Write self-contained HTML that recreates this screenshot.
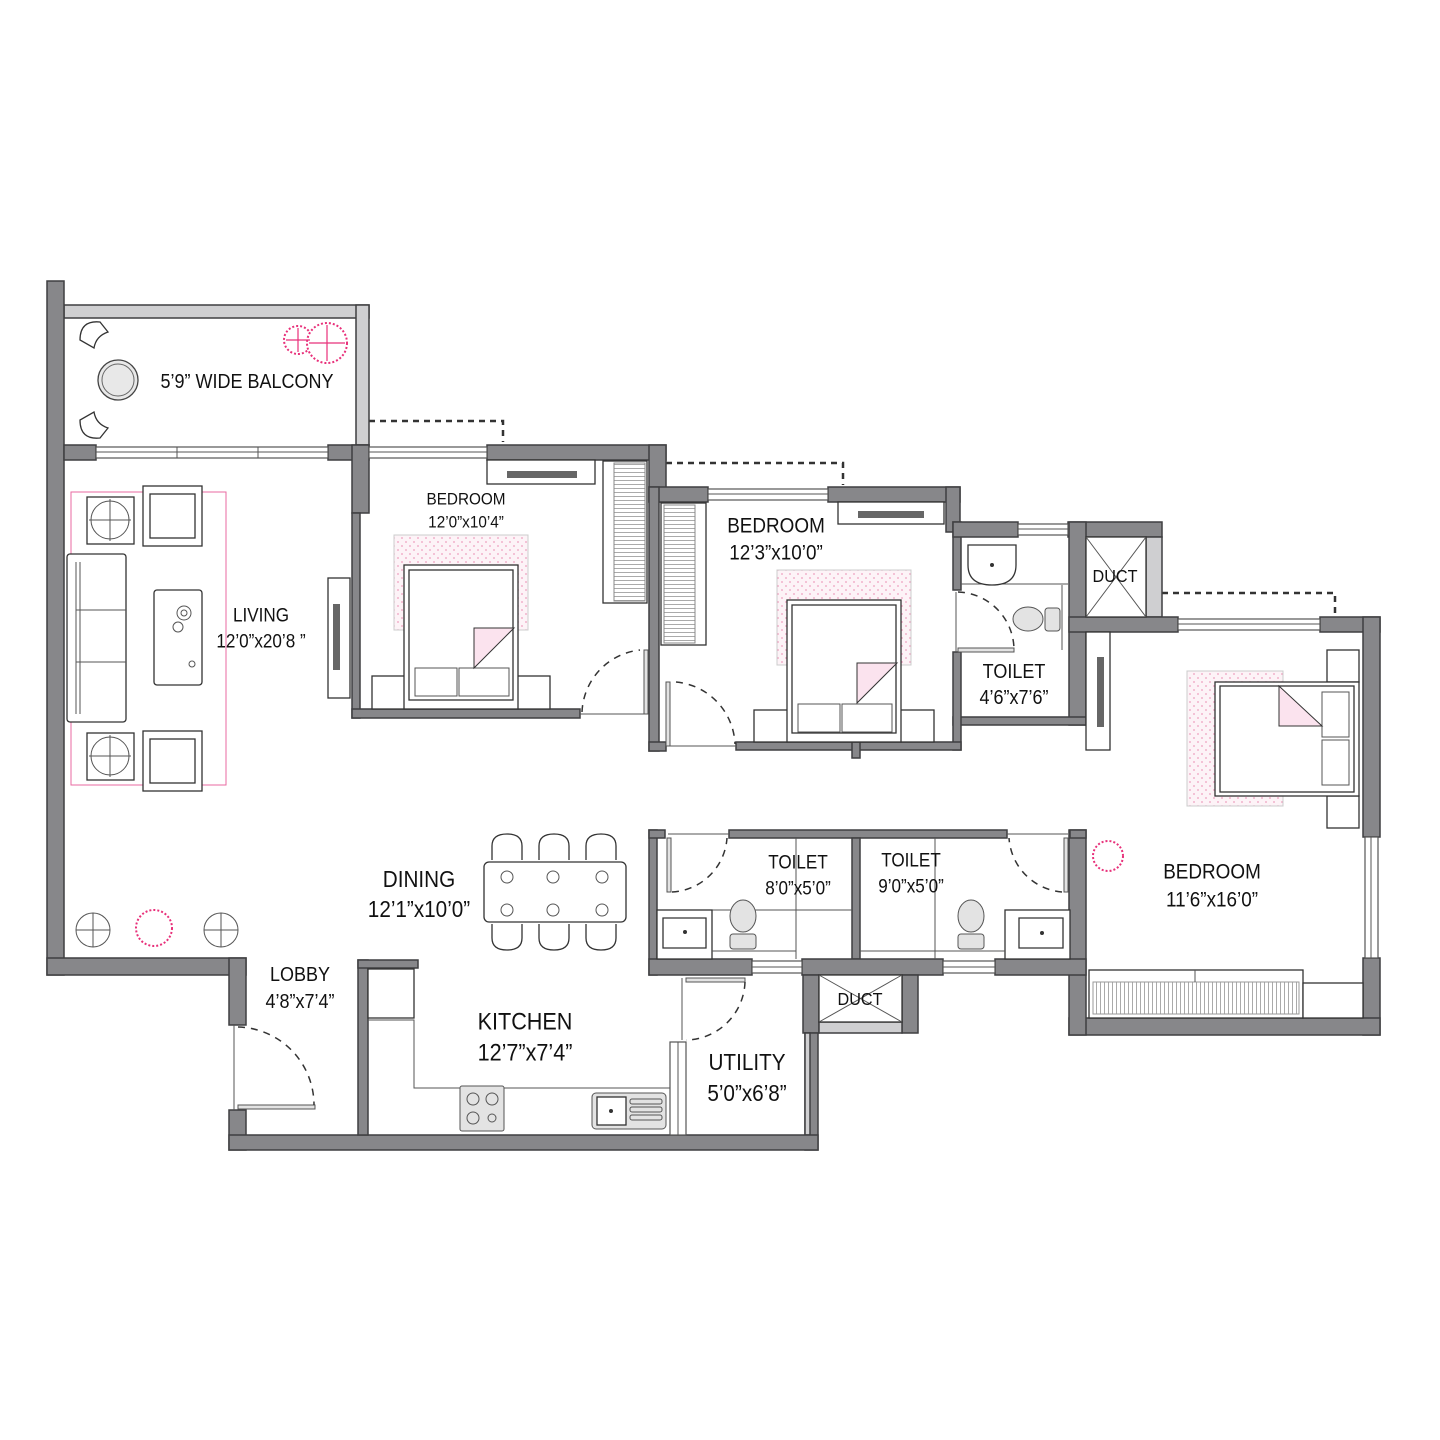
<!DOCTYPE html>
<html><head><meta charset="utf-8">
<style>
html,body{margin:0;padding:0;background:#fff;}
svg{display:block}
.w{fill:#87878a;stroke:#3f3f41;stroke-width:1.5}
.lw{fill:#cfcfd1;stroke:#3f3f41;stroke-width:1.5}
.win{fill:#fff;stroke:#555;stroke-width:1.2}
.f{fill:#fff;stroke:#333;stroke-width:1.3}
.fl{fill:none;stroke:#555;stroke-width:1}
.g{fill:#e3e3e3;stroke:#555;stroke-width:1}
.d{fill:none;stroke:#333;stroke-width:1.5;stroke-dasharray:7 6}
.dl{fill:none;stroke:#333;stroke-width:2.5;stroke-dasharray:6 5}
.pk{fill:#fbe3ee;stroke:#e0a0b8;stroke-width:1}
text{font-family:"Liberation Sans Narrow","Liberation Sans",sans-serif;fill:#111;text-anchor:middle;dominant-baseline:central}
</style></head>
<body>
<svg width="1440" height="1440" viewBox="0 0 1440 1440" xmlns="http://www.w3.org/2000/svg">
<defs>
<pattern id="dots" width="8" height="8" patternUnits="userSpaceOnUse"><rect width="8" height="8" fill="#fdf3f7"/><circle cx="2" cy="2" r="0.9" fill="#ef9fbf"/><circle cx="6" cy="6" r="0.9" fill="#ef9fbf"/></pattern>
<pattern id="vl" width="4" height="4" patternUnits="userSpaceOnUse"><rect width="4" height="4" fill="#fff"/><rect width="1" height="4" fill="#aaa"/></pattern>
<pattern id="hl" width="4" height="4" patternUnits="userSpaceOnUse"><rect width="4" height="4" fill="#fff"/><rect width="4" height="1" fill="#aaa"/></pattern>
</defs>

<polyline class="dl" points="369,421 503,421 503,442"/>
<polyline class="dl" points="666,463 843,463 843,485"/>
<polyline class="dl" points="1162,593 1335,593 1335,615"/>

<rect class="lw" x="64" y="305" width="305" height="13"/>
<rect class="lw" x="356" y="305" width="13" height="140"/>

<rect class="w" x="47" y="281" width="17" height="694"/>
<rect class="w" x="64" y="445" width="32" height="15"/>
<rect class="w" x="328" y="445" width="41" height="15"/>
<rect class="w" x="352" y="445" width="17" height="68"/>
<rect class="w" x="352" y="513" width="8" height="205"/>
<rect class="w" x="352" y="709" width="228" height="9"/>
<rect class="w" x="487" y="445" width="179" height="15"/>
<rect class="w" x="649" y="445" width="17" height="57"/>
<rect class="w" x="649" y="487" width="59" height="15"/>
<rect class="w" x="649" y="487" width="10" height="264"/>
<rect class="w" x="649" y="742" width="17" height="9"/>
<rect class="w" x="828" y="487" width="132" height="15"/>
<rect class="w" x="946" y="487" width="14" height="45"/>
<rect class="w" x="953" y="522" width="8" height="68"/>
<rect class="w" x="953" y="522" width="65" height="15"/>
<rect class="w" x="1068" y="522" width="94" height="15"/>
<rect class="w" x="1069" y="522" width="17" height="203"/>
<rect class="lw" x="1146" y="537" width="16" height="80"/>
<rect class="w" x="1069" y="617" width="109" height="15"/>
<rect class="w" x="1320" y="617" width="60" height="15"/>
<rect class="w" x="1363" y="617" width="17" height="220"/>
<rect class="w" x="1363" y="958" width="17" height="77"/>
<rect class="w" x="1069" y="1018" width="311" height="17"/>
<rect class="w" x="1069" y="830" width="17" height="205"/>
<rect class="w" x="953" y="717" width="133" height="8"/>
<rect class="w" x="953" y="652" width="8" height="98"/>
<rect class="w" x="736" y="742" width="225" height="8"/>
<rect class="w" x="852" y="742" width="8" height="16"/>

<rect class="w" x="649" y="830" width="8" height="145"/>
<rect class="w" x="649" y="830" width="16" height="8"/>
<rect class="w" x="729" y="830" width="278" height="8"/>
<rect class="w" x="1070" y="830" width="16" height="8"/>
<rect class="w" x="852" y="838" width="8" height="121"/>
<rect class="w" x="649" y="959" width="103" height="16"/>
<rect class="w" x="802" y="959" width="141" height="16"/>
<rect class="w" x="995" y="959" width="91" height="16"/>
<rect class="w" x="803" y="975" width="16" height="58"/>
<rect class="w" x="902" y="975" width="16" height="58"/>
<rect class="lw" x="819" y="1022" width="83" height="11"/>
<rect class="w" x="805" y="1033" width="13" height="117"/>
<rect class="lw" x="805" y="1033" width="5" height="102"/>

<rect class="w" x="47" y="958" width="199" height="17"/>
<rect class="w" x="229" y="958" width="17" height="67"/>
<rect class="w" x="229" y="1110" width="17" height="40"/>
<rect class="w" x="229" y="1135" width="589" height="15"/>
<rect class="w" x="358" y="960" width="10" height="175"/>
<rect class="w" x="358" y="960" width="60" height="8"/>

<g>
<rect class="win" x="96" y="447" width="232" height="11"/>
<line class="fl" x1="96" y1="452" x2="328" y2="452"/>
<line class="fl" x1="177" y1="447" x2="177" y2="458"/><line class="fl" x1="258" y1="447" x2="258" y2="458"/>
<rect class="win" x="369" y="447" width="118" height="11"/><line class="fl" x1="369" y1="452" x2="487" y2="452"/>
<rect class="win" x="708" y="489" width="120" height="11"/><line class="fl" x1="708" y1="494" x2="828" y2="494"/>
<rect class="win" x="1018" y="524" width="50" height="11"/><line class="fl" x1="1018" y1="529" x2="1068" y2="529"/>
<rect class="win" x="1178" y="619" width="142" height="11"/><line class="fl" x1="1178" y1="624" x2="1320" y2="624"/>
<rect class="win" x="1365" y="837" width="13" height="121"/><line class="fl" x1="1371" y1="837" x2="1371" y2="958"/>
<rect class="win" x="752" y="961" width="50" height="12"/><line class="fl" x1="752" y1="967" x2="802" y2="967"/>
<rect class="win" x="943" y="961" width="52" height="12"/><line class="fl" x1="943" y1="967" x2="995" y2="967"/>
<rect class="win" x="670" y="1042" width="16" height="93"/><line class="fl" x1="678" y1="1042" x2="678" y2="1135"/>
</g>

<circle cx="118" cy="380" r="20" fill="#e8e8e8" stroke="#444" stroke-width="1.3"/>
<circle cx="118" cy="380" r="16" fill="none" stroke="#666" stroke-width="1"/>
<path class="f" d="M80,340 q0,-20 20,-18 l8,10 q-12,4 -14,16 z"/>
<path class="f" d="M80,420 q0,20 20,18 l8,-10 q-12,-4 -14,-16 z"/>
<circle cx="298" cy="340" r="14" fill="#fff" stroke="#e8307a" stroke-width="2" stroke-dasharray="2 2"/>
<circle cx="327" cy="343" r="20" fill="#fff" stroke="#e8307a" stroke-width="2" stroke-dasharray="2 2"/>
<path d="M298,328 v24 M286,340 h24 M327,325 v36 M309,343 h36" stroke="#e8307a" stroke-width="1.2"/>

<rect x="71" y="492" width="155" height="293" fill="none" stroke="#e86aa0" stroke-width="1"/>
<rect class="f" x="67" y="554" width="59" height="168" rx="3"/>
<line class="fl" x1="76" y1="562" x2="76" y2="714"/><line class="fl" x1="80" y1="562" x2="80" y2="714"/>
<line class="fl" x1="76" y1="610" x2="126" y2="610"/><line class="fl" x1="76" y1="662" x2="126" y2="662"/>
<rect class="f" x="87" y="497" width="47" height="47"/><circle class="fl" cx="110" cy="520" r="19"/><path class="fl" d="M110,499v42M89,520h42"/>
<rect class="f" x="87" y="733" width="47" height="47"/><circle class="fl" cx="110" cy="756" r="19"/><path class="fl" d="M110,735v42M89,756h42"/>
<rect class="f" x="143" y="486" width="59" height="60"/><rect class="f" x="150" y="494" width="45" height="44"/>
<rect class="f" x="143" y="731" width="59" height="60"/><rect class="f" x="150" y="739" width="45" height="44"/>
<rect class="f" x="154" y="590" width="48" height="95" rx="3"/>
<circle class="fl" cx="184" cy="613" r="7"/><circle class="fl" cx="184" cy="613" r="3"/><circle class="fl" cx="178" cy="627" r="5"/><circle class="fl" cx="192" cy="664" r="3"/>
<rect class="f" x="328" y="578" width="22" height="120"/><rect x="333" y="604" width="7" height="66" fill="#666"/>

<rect class="f" x="487" y="460" width="108" height="24"/><rect x="507" y="471" width="70" height="7" fill="#666"/>
<rect class="f" x="603" y="461" width="44" height="142"/><rect x="614" y="463" width="31" height="138" fill="url(#hl)" stroke="#888"/>
<rect x="394" y="535" width="134" height="95" fill="url(#dots)" stroke="#ccc"/>
<rect class="f" x="372" y="676" width="178" height="33"/>
<rect class="f" x="404" y="565" width="114" height="144"/><rect class="f" x="409" y="570" width="104" height="130"/>
<rect class="fl" x="415" y="668" width="42" height="28"/><rect class="fl" x="459" y="668" width="50" height="28"/>
<polygon points="474,628 514,628 474,668" class="pk" style="stroke:#333"/>

<rect class="f" x="838" y="502" width="106" height="22"/><rect x="858" y="511" width="66" height="7" fill="#666"/>
<rect class="f" x="661" y="503" width="45" height="142"/><rect x="664" y="505" width="31" height="138" fill="url(#hl)" stroke="#888"/>
<rect x="777" y="570" width="134" height="95" fill="url(#dots)" stroke="#ccc"/>
<rect class="f" x="754" y="710" width="180" height="32"/>
<rect class="f" x="787" y="600" width="114" height="142"/><rect class="f" x="792" y="605" width="104" height="128"/>
<rect class="fl" x="798" y="704" width="42" height="28"/><rect class="fl" x="842" y="704" width="50" height="28"/>
<polygon points="857,663 897,663 857,703" class="pk" style="stroke:#333"/>

<line class="fl" x1="961" y1="584" x2="1068" y2="584"/>
<path class="f" d="M968,545 h48 v20 q0,20 -24,20 q-24,0 -24,-20 z"/><circle cx="992" cy="565" r="2" fill="#333"/>
<ellipse class="g" cx="1028" cy="619" rx="15" ry="12"/><rect class="g" x="1045" y="608" width="15" height="23" rx="3"/>
<line class="fl" x1="1062" y1="585" x2="1062" y2="650"/>

<rect class="f" x="1086" y="537" width="60" height="80"/><path class="fl" d="M1086,537L1146,617M1146,537L1086,617"/>
<rect class="f" x="819" y="975" width="83" height="47"/><path class="fl" d="M819,975L902,1022M902,975L819,1022"/>

<rect class="f" x="1086" y="632" width="24" height="118"/><rect x="1097" y="657" width="7" height="70" fill="#666"/>
<rect x="1187" y="671" width="96" height="135" fill="url(#dots)" stroke="#ccc"/>
<rect class="f" x="1327" y="650" width="32" height="32"/><rect class="f" x="1327" y="796" width="32" height="32"/>
<rect class="f" x="1215" y="682" width="144" height="114"/><rect class="f" x="1220" y="686" width="134" height="106"/>
<rect class="fl" x="1322" y="692" width="27" height="45"/><rect class="fl" x="1322" y="740" width="27" height="45"/>
<polygon points="1279,686 1279,726 1322,726" class="pk" style="stroke:#333"/>
<rect class="f" x="1089" y="970" width="214" height="48"/><rect x="1093" y="982" width="206" height="32" fill="url(#vl)" stroke="#999"/>
<line class="fl" x1="1195" y1="970" x2="1195" y2="982"/>
<rect class="f" x="1303" y="983" width="60" height="35"/>
<circle cx="1108" cy="856" r="15" fill="#fff" stroke="#e8307a" stroke-width="2" stroke-dasharray="2 2"/>

<line class="fl" x1="657" y1="910" x2="852" y2="910"/>
<rect class="f" x="657" y="910" width="55" height="49"/><path class="f" d="M663,918 h43 v30 h-43 z"/><circle cx="685" cy="932" r="2" fill="#333"/>
<line class="fl" x1="796" y1="838" x2="796" y2="959"/><line class="fl" x1="712" y1="951" x2="796" y2="951"/>
<ellipse class="g" cx="743" cy="916" rx="13" ry="16"/><rect class="g" x="730" y="934" width="26" height="15" rx="3"/>
<rect class="f" x="1005" y="910" width="65" height="49"/><path class="f" d="M1019,918 h44 v30 h-44 z"/><circle cx="1042" cy="933" r="2" fill="#333"/>
<line class="fl" x1="935" y1="838" x2="935" y2="959"/><line class="fl" x1="860" y1="951" x2="1005" y2="951"/>
<ellipse class="g" cx="971" cy="916" rx="13" ry="16"/><rect class="g" x="958" y="934" width="26" height="15" rx="3"/>

<rect class="g" x="644" y="650" width="4" height="64"/><line class="fl" x1="580" y1="714" x2="647" y2="714"/>
<path class="d" d="M582,712 A65,65 0 0 1 640,650"/>
<rect class="g" x="666" y="682" width="4" height="64"/><line class="fl" x1="668" y1="746" x2="736" y2="746"/>
<path class="d" d="M676,682 A65,65 0 0 1 735,744"/>
<line class="fl" x1="956" y1="592" x2="956" y2="652"/><rect class="g" x="958" y="648" width="56" height="4"/>
<path class="d" d="M958,592 A58,58 0 0 1 1014,650"/>
<rect class="g" x="667" y="838" width="4" height="54"/><line class="fl" x1="668" y1="834" x2="729" y2="834"/>
<path class="d" d="M672,892 A58,58 0 0 0 727,838"/>
<rect class="g" x="1064" y="838" width="4" height="54"/><line class="fl" x1="1007" y1="834" x2="1068" y2="834"/>
<path class="d" d="M1062,892 A58,58 0 0 1 1009,838"/>
<rect class="g" x="686" y="978" width="59" height="4"/><line class="fl" x1="682" y1="978" x2="682" y2="1040"/>
<path class="d" d="M745,982 A60,60 0 0 1 686,1040"/>
<line class="fl" x1="234" y1="1025" x2="234" y2="1110"/><rect class="g" x="238" y="1105" width="77" height="4"/>
<path class="d" d="M238,1027 A78,78 0 0 1 314,1105"/>

<rect class="f" x="484" y="862" width="142" height="60" rx="5"/>
<g class="fl">
<circle cx="507" cy="877" r="6"/><circle cx="553" cy="877" r="6"/><circle cx="602" cy="877" r="6"/>
<circle cx="507" cy="910" r="6"/><circle cx="553" cy="910" r="6"/><circle cx="602" cy="910" r="6"/>
</g>
<g class="f">
<path d="M492,860 v-14 q0,-12 15,-12 q15,0 15,12 v14"/><path d="M539,860 v-14 q0,-12 15,-12 q15,0 15,12 v14"/><path d="M586,860 v-14 q0,-12 15,-12 q15,0 15,12 v14"/>
<path d="M492,924 v14 q0,12 15,12 q15,0 15,-12 v-14"/><path d="M539,924 v14 q0,12 15,12 q15,0 15,-12 v-14"/><path d="M586,924 v14 q0,12 15,12 q15,0 15,-12 v-14"/>
</g>
<circle class="fl" cx="93" cy="930" r="17"/><path class="fl" d="M93,913v34M76,930h34"/>
<circle class="fl" cx="221" cy="930" r="17"/><path class="fl" d="M221,913v34M204,930h34"/>
<circle cx="154" cy="928" r="18" fill="#fff" stroke="#e8307a" stroke-width="2" stroke-dasharray="2 2"/>

<rect class="f" x="368" y="969" width="46" height="49"/>
<polyline class="fl" points="368,1020 414,1020 414,1088 670,1088"/>
<rect class="g" x="460" y="1086" width="44" height="45" rx="2"/>
<circle class="fl" cx="473" cy="1099" r="6"/><circle class="fl" cx="492" cy="1099" r="6"/><circle class="fl" cx="473" cy="1118" r="6"/><circle class="fl" cx="492" cy="1118" r="4"/>
<rect class="g" x="592" y="1093" width="74" height="36" rx="4"/><rect class="f" x="597" y="1097" width="29" height="28"/><circle cx="611" cy="1111" r="2" fill="#333"/>
<g class="fl"><rect x="630" y="1099" width="32" height="5" rx="2"/><rect x="630" y="1107" width="32" height="5" rx="2"/><rect x="630" y="1115" width="32" height="5" rx="2"/></g>

<g transform="translate(247,382) scale(0.9,1)"><text font-size="20">5’9” WIDE BALCONY</text></g>
<g transform="translate(466,499) scale(0.9,1)"><text font-size="17">BEDROOM</text></g>
<g transform="translate(466,522) scale(0.9,1)"><text font-size="17">12’0”x10’4”</text></g>
<g transform="translate(261,615) scale(0.9,1)"><text font-size="19">LIVING</text></g>
<g transform="translate(261,641) scale(0.9,1)"><text font-size="19">12’0”x20’8 ”</text></g>
<g transform="translate(776,526) scale(0.9,1)"><text font-size="21">BEDROOM</text></g>
<g transform="translate(776,553) scale(0.9,1)"><text font-size="21">12’3”x10’0”</text></g>
<g transform="translate(1014,672) scale(0.9,1)"><text font-size="20">TOILET</text></g>
<g transform="translate(1014,698) scale(0.9,1)"><text font-size="20">4’6”x7’6”</text></g>
<g transform="translate(1115,576) scale(0.9,1)"><text font-size="18">DUCT</text></g>
<g transform="translate(860,999) scale(0.9,1)"><text font-size="18">DUCT</text></g>
<g transform="translate(798,862) scale(0.9,1)"><text font-size="19">TOILET</text></g>
<g transform="translate(798,888) scale(0.9,1)"><text font-size="19">8’0”x5’0”</text></g>
<g transform="translate(911,860) scale(0.9,1)"><text font-size="19">TOILET</text></g>
<g transform="translate(911,886) scale(0.9,1)"><text font-size="19">9’0”x5’0”</text></g>
<g transform="translate(1212,872) scale(0.9,1)"><text font-size="21">BEDROOM</text></g>
<g transform="translate(1212,900) scale(0.9,1)"><text font-size="21">11’6”x16’0”</text></g>
<g transform="translate(419,879) scale(0.9,1)"><text font-size="23">DINING</text></g>
<g transform="translate(419,909) scale(0.9,1)"><text font-size="23">12’1”x10’0”</text></g>
<g transform="translate(300,975) scale(0.9,1)"><text font-size="20">LOBBY</text></g>
<g transform="translate(300,1002) scale(0.9,1)"><text font-size="20">4’8”x7’4”</text></g>
<g transform="translate(525,1021) scale(0.9,1)"><text font-size="24">KITCHEN</text></g>
<g transform="translate(525,1052) scale(0.9,1)"><text font-size="24">12’7”x7’4”</text></g>
<g transform="translate(747,1062) scale(0.9,1)"><text font-size="23">UTILITY</text></g>
<g transform="translate(747,1093) scale(0.9,1)"><text font-size="23">5’0”x6’8”</text></g>
</svg>
</body></html>
